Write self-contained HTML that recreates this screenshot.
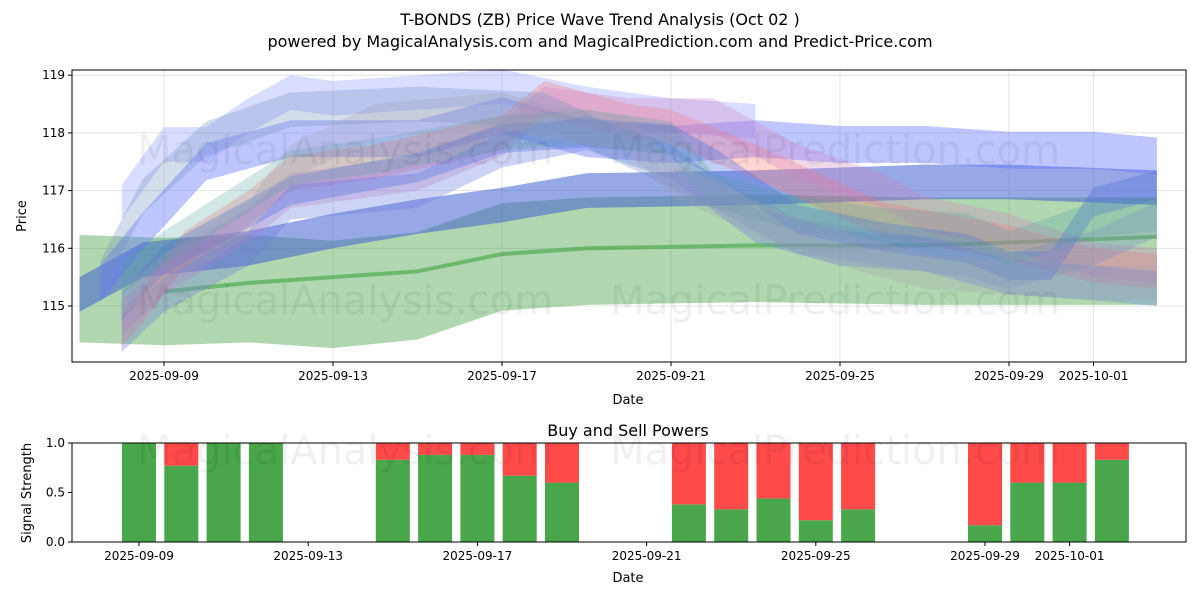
<!DOCTYPE html>
<html><head><meta charset="utf-8"><style>
body{margin:0;background:#fff;font-family:"Liberation Sans","DejaVu Sans",sans-serif}
svg text{font-family:"DejaVu Sans","Liberation Sans",sans-serif}
</style></head><body>
<svg id="c" width="1200" height="600" xmlns="http://www.w3.org/2000/svg">
<rect width="1200" height="600" fill="#fff"/>
<text x="600" y="25" text-anchor="middle" font-size="16">T-BONDS (ZB) Price Wave Trend Analysis (Oct 02 )</text>
<text x="600" y="47" text-anchor="middle" font-size="16">powered by MagicalAnalysis.com and MagicalPrediction.com and Predict-Price.com</text>
<g id="topg"></g><g id="botg"></g>
</svg>
<script>
const NS="http://www.w3.org/2000/svg";
// price chart data (day offsets from 2025-09-09)
const greenDays=[-2,0,2,4,6,8,10,14,18,20,23.5];
const greenCenter=[115.3,115.25,115.3,115.2,115.35,115.85,115.95,116.0,115.95,115.95,115.95];
const greenLineDays=[0,2,4,6,8,10,14,18,20,23.5];
const greenLine=[115.25,115.4,115.5,115.6,115.9,116.0,116.05,116.05,116.1,116.2];
const bandA={days:[-2,-0.5,2,4,6,8,10,14,18,20,23.5],vals:[115.2,115.8,116.0,116.3,116.55,116.75,117.0,117.05,117.15,117.15,117.05],hw:0.3,color:"#4060d0",op:0.55};
const bandList=[
 {days:[-1.5,-0.5,1,3,6,8,10,12,14,16,18,20,22,23.5],vals:[115.4,116.3,117.5,117.9,117.9,118.3,117.9,117.8,117.9,117.8,117.8,117.7,117.7,117.6],hw:0.32,color:"#6070ff",op:0.4},
 {days:[-1,0,1,2,3,4,6,8,10,12,14],vals:[116.8,117.8,117.8,118.3,118.7,118.6,118.7,118.8,118.5,118.3,118.2],hw:0.3,color:"#8090ff",op:0.3},
 {days:[-1,-0.5,0.5,2,3,5,8,9,11,12,14,17,20,22,23.5],vals:[114.6,115.0,116.0,116.7,117.3,117.5,118.0,118.6,118.2,118.1,117.5,116.5,116.1,115.7,115.6],hw:0.3,color:"#ff7070",op:0.3},
 {days:[-1,0,2,3,6,8,9,11,13,15,17,18,20,22,23.5],vals:[114.8,115.5,116.4,117.0,117.3,117.9,118.5,118.3,118.3,117.5,117.0,116.6,116.3,115.8,115.7],hw:0.3,color:"#d080c0",op:0.3},
 {days:[-1,0,2,3,6,8,10,12,14,16,18,20,22,23.5],vals:[114.5,115.2,116.0,116.8,117.0,117.7,118.0,117.5,116.4,116.0,115.9,115.5,115.4,115.3],hw:0.3,color:"#7080e0",op:0.35},
 {days:[-1,0,3,6,8,10,12,13,15,17,19,20,21,22,23.5],vals:[115.0,115.8,117.0,117.4,117.9,118.0,117.9,117.5,116.5,116.2,116.0,115.7,115.7,116.8,117.1],hw:0.25,color:"#5070e0",op:0.35},
 {days:[-1,0,3,5,8,10,12,13,15,17,19,20,22,23.5],vals:[115.5,116.0,117.4,117.6,118.0,118.1,117.9,117.0,116.6,116.4,116.3,116.0,116.5,116.6],hw:0.3,color:"#50a0a0",op:0.25},
 {days:[-1.5,-0.5,1,3,6,9,11,13,15,17,19,20,22,23.5],vals:[115.5,116.9,117.9,118.4,118.5,118.4,117.7,117.0,116.2,116.0,115.8,115.6,116.0,116.5],hw:0.3,color:"#7090c0",op:0.3},
 {days:[-1,0,2,3,5,8,9,11,12,15,18,20,22,23.5],vals:[115.0,115.6,116.5,117.5,118.2,118.4,118.2,118.0,117.2,116.2,115.6,115.5,115.4,115.4],hw:0.3,color:"#a0a0b0",op:0.25}
];
// signal data
const sigDays=["09-09","09-10","09-11","09-12","09-15","09-16","09-17","09-18","09-19","09-22","09-23","09-24","09-25","09-26","09-29","09-30","10-01","10-02"];
const sigOffset=[0,1,2,3,6,7,8,9,10,13,14,15,16,17,20,21,22,23];
const buyPower=[1.0,0.77,1.0,1.0,0.83,0.88,0.88,0.67,0.6,0.38,0.33,0.44,0.22,0.33,0.17,0.6,0.6,0.83];
const xTicks=["2025-09-09","2025-09-13","2025-09-17","2025-09-21","2025-09-25","2025-09-29","2025-10-01"];
const xTickDays=[0,4,8,12,16,20,22];
const yTicks=[115,116,117,118,119];
const sTicks=[0.0,0.5,1.0];
{
const T={x0:72,x1:1186,y0:70,y1:362};
const tx=d=>164+d*42.25, ty=v=>306-(v-115)*57.7;
const B={x0:72,x1:1186,y0:443,y1:542};
const bx=d=>139+d*42.3, by=v=>542-v*99;
function el(p,tag,a){const e=document.createElementNS(NS,tag);for(const k in a)e.setAttribute(k,a[k]);p.appendChild(e);return e;}
const topG=document.getElementById('topg'),botG=document.getElementById('botg');
yTicks.forEach(v=>{const l=el(topG,'line',{x1:T.x0,x2:T.x1,y1:ty(v),y2:ty(v),stroke:'#ddd','stroke-width':0.8});

});
xTickDays.forEach(d=>{const l=el(topG,'line',{x1:tx(d),x2:tx(d),y1:T.y0,y2:T.y1,stroke:'#ddd','stroke-width':0.8});

});
function band(days,vals,hw,color,op,name){
  const up=days.map((d,i)=>tx(d)+','+ty(vals[i]+hw));
  const dn=days.map((d,i)=>tx(d)+','+ty(vals[i]-hw)).reverse();
  const p=el(topG,'polygon',{points:up.concat(dn).join(' '),fill:color,'fill-opacity':op});
  
  
}
band(greenDays,greenCenter,0.93,'#3a9a3a',0.4,'green-band');
band(greenLineDays,greenLine,0.035,'#2a9a2a',0.5,'green-line');
band(bandA.days,bandA.vals,bandA.hw,bandA.color,bandA.op,'blue-band');
bandList.forEach((b,i)=>band(b.days,b.vals,b.hw,b.color,b.op,'wave-band-'+i));
[[345,150,'MagicalAnalysis.com'],[835,150,'MagicalPrediction.com'],[345,300,'MagicalAnalysis.com'],[835,300,'MagicalPrediction.com'],[345,450,'MagicalAnalysis.com'],[835,450,'MagicalPrediction.com']].forEach(w=>{
 const t=el(document.getElementById('c'),'text',{x:w[0],y:w[1]+14,'text-anchor':'middle','font-size':40,fill:'#000','fill-opacity':0.06});t.textContent=w[2];
 
 });
const ft=el(topG,'rect',{x:T.x0,y:T.y0,width:T.x1-T.x0,height:T.y1-T.y0,fill:'none',stroke:'#000','stroke-width':1});


yTicks.forEach(v=>{el(topG,'line',{x1:T.x0-4,x2:T.x0,y1:ty(v),y2:ty(v),stroke:'#000'});
 const t=el(topG,'text',{x:T.x0-7,y:ty(v)+4,'text-anchor':'end','font-size':12});t.textContent=v;
 
 });
xTickDays.forEach((d,i)=>{el(topG,'line',{x1:tx(d),x2:tx(d),y1:T.y1,y2:T.y1+4,stroke:'#000'});
 const t=el(topG,'text',{x:tx(d),y:T.y1+18,'text-anchor':'middle','font-size':12});t.textContent=xTicks[i];
 
 });
let t=el(topG,'text',{x:628,y:404,'text-anchor':'middle','font-size':13});t.textContent='Date';


t=el(topG,'text',{x:26,y:216,'text-anchor':'middle','font-size':13,transform:'rotate(-90 26 216)'});t.textContent='Price';


sigOffset.forEach((d,i)=>{
 const g=buyPower[i],x=bx(d)-17;
 const r1=el(botG,'rect',{x:x,y:by(g),width:34,height:by(0)-by(g),fill:'#4aa64a'});
 
 
 const r2=el(botG,'rect',{x:x,y:by(1),width:34,height:by(g)-by(1),fill:'#ff4a4a'});
 
 
});
const fb=el(botG,'rect',{x:B.x0,y:B.y0,width:B.x1-B.x0,height:B.y1-B.y0,fill:'none',stroke:'#000','stroke-width':1});


sTicks.forEach(v=>{el(botG,'line',{x1:B.x0-4,x2:B.x0,y1:by(v),y2:by(v),stroke:'#000'});
 const t=el(botG,'text',{x:B.x0-7,y:by(v)+4,'text-anchor':'end','font-size':12});t.textContent=v.toFixed(1);
 
 });
xTickDays.forEach((d,i)=>{el(botG,'line',{x1:bx(d),x2:bx(d),y1:B.y1,y2:B.y1+4,stroke:'#000'});
 const t=el(botG,'text',{x:bx(d),y:B.y1+18,'text-anchor':'middle','font-size':12});t.textContent=xTicks[i];
 
 });
t=el(botG,'text',{x:628,y:582,'text-anchor':'middle','font-size':13});t.textContent='Date';


t=el(botG,'text',{x:31,y:493,'text-anchor':'middle','font-size':13,transform:'rotate(-90 31 493)'});t.textContent='Signal Strength';


t=el(botG,'text',{x:628,y:436,'text-anchor':'middle','font-size':16});t.textContent='Buy and Sell Powers';


}
</script>
</body></html>
